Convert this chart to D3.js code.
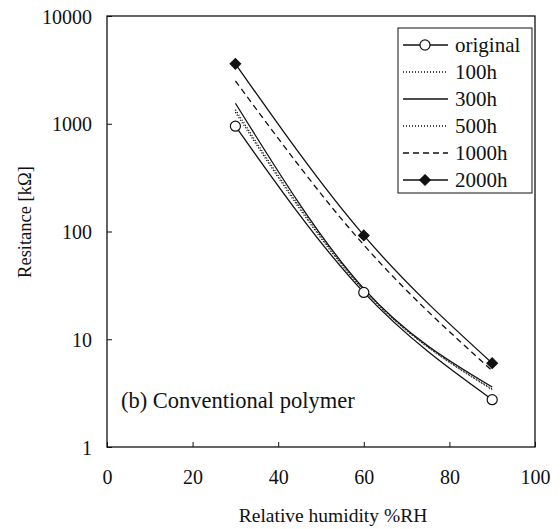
<!DOCTYPE html>
<html>
<head>
<meta charset="utf-8">
<script src="https://cdn.jsdelivr.net/npm/d3@7"></script>
<style>
  body { margin: 0; background: #fff; }
  text { font-family: "Liberation Serif", serif; fill: #111; }
</style>
</head>
<body>
<div id="chart"></div>
<script>
let width = 560;
let height = 529;
let margin = ({top: 16, right: 25, bottom: 82, left: 107});

// Relative humidity points (%RH)
let humidity = [30, 60, 90];

// Resistance [kOhm] per aging time
let seriesNames = ["original", "100h", "300h", "500h", "1000h", "2000h"];
let original = [950, 27.2, 2.75];
let h100 = [1350, 29, 3.4];
let h300 = [1550, 29.5, 3.6];
let h500 = [1280, 28.5, 3.45];
let h1000 = [2500, 75, 5.1];
let h2000 = [3600, 92, 6.0];

let xTicks = [0, 20, 40, 60, 80, 100];
let yTicks = [1, 10, 100, 1000, 10000];

// line style for each series
let styles = {
    "original": {dash: null, marker: "circle"},
    "100h": {dash: "1,2", marker: null},
    "300h": {dash: null, marker: null},
    "500h": {dash: "1,2", marker: null},
    "1000h": {dash: "6,4", marker: null},
    "2000h": {dash: null, marker: "diamond"}
};

let values = [original, h100, h300, h500, h1000, h2000];
let series = seriesNames.map((name, i) => ({
    name: name,
    points: humidity.map((h, j) => ({x: h, y: values[i][j]}))
}));

let svg = d3.select("#chart")
    .append("svg")
    .attr("width", width)
    .attr("height", height);

let xScale = d3.scaleLinear()
    .domain([0, 100])
    .range([margin.left, width - margin.right]);

let yScale = d3.scaleLog()
    .domain([1, 10000])
    .range([height - margin.bottom, margin.top]);

// frame
svg.append("rect")
    .attr("x", margin.left)
    .attr("y", margin.top)
    .attr("width", width - margin.left - margin.right)
    .attr("height", height - margin.top - margin.bottom)
    .attr("fill", "none")
    .attr("stroke", "#111")
    .attr("stroke-width", 1.3);

// X axis, ticks pointing inward
let xAxis = d3.axisBottom(xScale)
    .tickValues(xTicks)
    .tickSizeInner(-5)
    .tickSizeOuter(0)
    .tickPadding(23);

let gx = svg.append("g")
    .attr("transform", "translate(0," + (height - margin.bottom) + ")")
    .call(xAxis);
gx.select(".domain").remove();
gx.selectAll("text")
    .style("font-size", "20px")
    .style("font-family", "Liberation Serif");

// Y axis, ticks pointing inward
let yAxis = d3.axisLeft(yScale)
    .tickValues(yTicks)
    .tickFormat(d3.format("d"))
    .tickSizeInner(-5)
    .tickSizeOuter(0)
    .tickPadding(15);

let gy = svg.append("g")
    .attr("transform", "translate(" + margin.left + ",0)")
    .call(yAxis);
gy.select(".domain").remove();
gy.selectAll("text")
    .style("font-size", "20px")
    .style("font-family", "Liberation Serif")
    .attr("dy", "0.35em");

svg.selectAll(".tick line").attr("stroke", "#111");

// axis titles
svg.append("text")
    .attr("x", 333)
    .attr("y", 522)
    .attr("text-anchor", "middle")
    .style("font-size", "19.5px")
    .text("Relative humidity %RH");

svg.append("text")
    .attr("transform", "translate(31," + 222 + ") rotate(-90)")
    .attr("text-anchor", "middle")
    .style("font-size", "18.5px")
    .text("Resitance [kΩ]");

// annotation
svg.append("text")
    .attr("x", 121)
    .attr("y", 408)
    .style("font-size", "22.5px")
    .text("(b) Conventional polymer");

// curves
let line = d3.line()
    .x(d => xScale(d.x))
    .y(d => yScale(d.y))
    .curve(d3.curveMonotoneX);

svg.selectAll(".series")
    .data(series)
    .enter()
    .append("path")
    .attr("class", "series")
    .attr("d", d => line(d.points))
    .attr("fill", "none")
    .attr("stroke", "#111")
    .attr("stroke-width", d => styles[d.name].dash === "1,2" ? 1.4 : 1.3)
    .attr("stroke-dasharray", d => styles[d.name].dash);

let circleSym = d3.symbol().type(d3.symbolCircle).size(80);
let diamondSym = d3.symbol().type(d3.symbolDiamond2).size(70);

series.forEach(s => {
    let m = styles[s.name].marker;
    if (!m) return;
    svg.selectAll(".m-" + s.name)
        .data(s.points)
        .enter()
        .append("path")
        .attr("transform", d => "translate(" + xScale(d.x) + "," + yScale(d.y) + ")")
        .attr("d", m === "circle" ? circleSym : diamondSym)
        .attr("fill", m === "circle" ? "#fff" : "#111")
        .attr("stroke", "#111")
        .attr("stroke-width", 1.2);
});

// legend
let legend = svg.append("g")
    .attr("transform", "translate(398,28)");

legend.append("rect")
    .attr("width", 134)
    .attr("height", 165)
    .attr("fill", "#fff")
    .attr("stroke", "#111")
    .attr("stroke-width", 1);

let rows = legend.selectAll(".row")
    .data(seriesNames)
    .enter()
    .append("g")
    .attr("transform", (d, i) => "translate(0," + (17 + i * 27) + ")");

rows.append("line")
    .attr("x1", 5)
    .attr("x2", 50)
    .attr("stroke", "#111")
    .attr("stroke-width", 1.3)
    .attr("stroke-dasharray", d => styles[d].dash);

rows.filter(d => styles[d].marker)
    .append("path")
    .attr("transform", "translate(27,0)")
    .attr("d", d => styles[d].marker === "circle" ? circleSym() : diamondSym())
    .attr("fill", d => styles[d].marker === "circle" ? "#fff" : "#111")
    .attr("stroke", "#111")
    .attr("stroke-width", 1.2);

rows.append("text")
    .attr("x", 57)
    .attr("dy", "0.35em")
    .style("font-size", "21px")
    .text(d => d);
</script>
</body>
</html>
